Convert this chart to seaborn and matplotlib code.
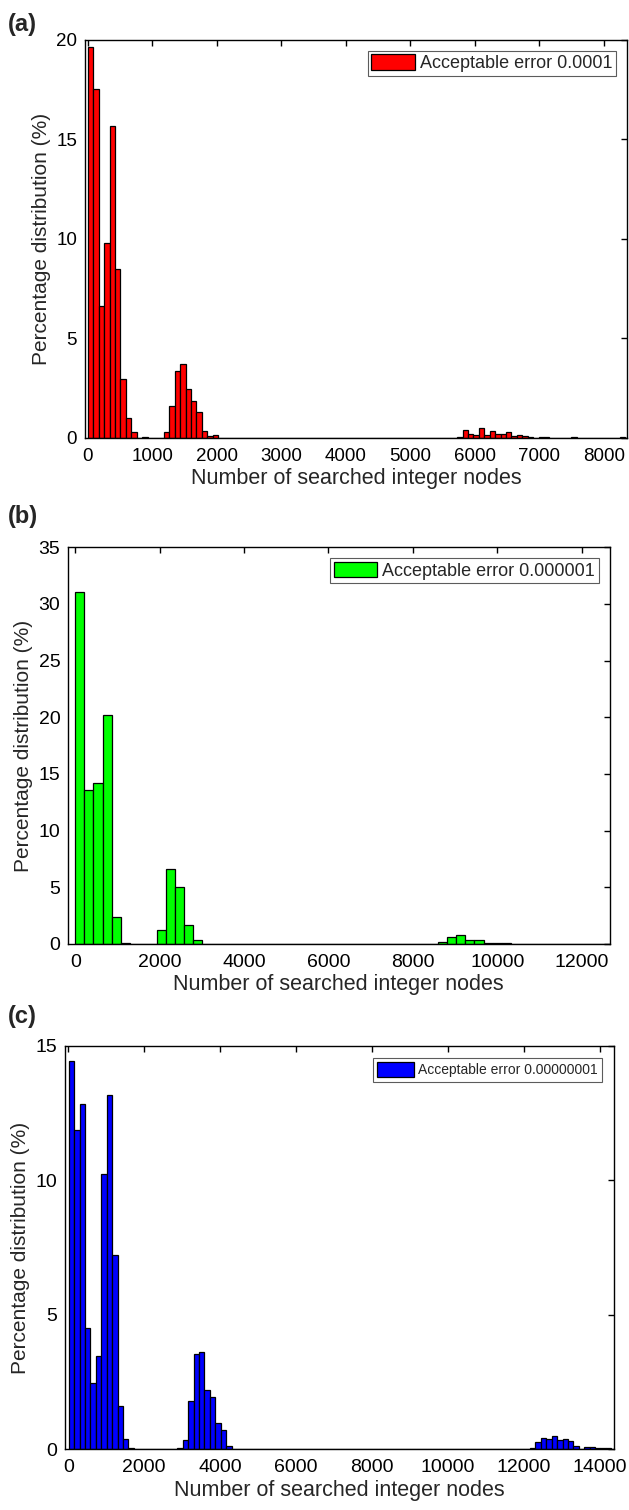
import numpy as np
import pandas as pd
import matplotlib
matplotlib.use("Agg")
import matplotlib.pyplot as plt
import seaborn as sns

sns.set_theme(style="white")
plt.rcParams["font.family"] = ["Liberation Sans", "DejaVu Sans"]

# Percentage of runs per bin of searched integer nodes
# (a) acceptable error 1e-4: 100 bins of width 84.2 starting at 0
pct_a = [19.63, 17.52, 6.62, 9.78, 15.67, 8.50, 2.95, 0.97, 0.29, 0.00,
         0.05, 0.00, 0.00, 0.00, 0.27, 1.58, 3.35, 3.72, 2.47, 1.83,
         1.29, 0.35, 0.10, 0.12, 0.00, 0.00, 0.00, 0.00, 0.00, 0.00,
         0.00, 0.00, 0.00, 0.00, 0.00, 0.00, 0.00, 0.00, 0.00, 0.00,
         0.00, 0.00, 0.00, 0.00, 0.00, 0.00, 0.00, 0.00, 0.00, 0.00,
         0.00, 0.00, 0.00, 0.00, 0.00, 0.00, 0.00, 0.00, 0.00, 0.00,
         0.00, 0.00, 0.00, 0.00, 0.00, 0.00, 0.00, 0.00, 0.02, 0.37,
         0.18, 0.12, 0.47, 0.13, 0.34, 0.17, 0.17, 0.29, 0.08, 0.12,
         0.08, 0.02, 0.00, 0.02, 0.02, 0.00, 0.00, 0.00, 0.00, 0.02,
         0.00, 0.00, 0.00, 0.00, 0.00, 0.00, 0.00, 0.00, 0.02, 0.00]
bin_start_a, bin_width_a = 0, 84.2

# (b) acceptable error 1e-6: 59 bins of width 215 starting at 0
pct_b = [31.03, 13.57, 14.24, 20.23, 2.34, 0.09, 0.00, 0.00, 0.00, 1.23,
         6.58, 5.00, 1.64, 0.38, 0.03, 0.02, 0.00, 0.00, 0.00, 0.00,
         0.00, 0.00, 0.00, 0.00, 0.00, 0.00, 0.00, 0.00, 0.00, 0.00,
         0.00, 0.00, 0.00, 0.00, 0.00, 0.00, 0.00, 0.00, 0.00, 0.00,
         0.18, 0.59, 0.79, 0.38, 0.32, 0.05, 0.05, 0.12, 0.00, 0.00,
         0.00, 0.00, 0.02, 0.00, 0.00, 0.00, 0.00, 0.00, 0.00]
bin_start_b, bin_width_b = 0, 215

# (c) acceptable error 1e-8: 100 bins of width 143 starting at 10
pct_c = [14.42, 11.86, 12.83, 4.49, 2.47, 3.46, 10.22, 13.17, 7.22, 1.62,
         0.38, 0.06, 0.00, 0.00, 0.00, 0.00, 0.00, 0.00, 0.00, 0.00,
         0.05, 0.33, 1.81, 3.53, 3.60, 2.19, 1.95, 0.97, 0.72, 0.11,
         0.00, 0.00, 0.00, 0.00, 0.00, 0.00, 0.00, 0.00, 0.00, 0.00,
         0.00, 0.00, 0.00, 0.00, 0.00, 0.00, 0.00, 0.00, 0.00, 0.00,
         0.00, 0.00, 0.00, 0.00, 0.00, 0.00, 0.00, 0.00, 0.00, 0.00,
         0.00, 0.00, 0.00, 0.00, 0.00, 0.00, 0.00, 0.00, 0.00, 0.00,
         0.00, 0.00, 0.00, 0.00, 0.00, 0.00, 0.00, 0.00, 0.00, 0.00,
         0.00, 0.00, 0.00, 0.00, 0.00, 0.03, 0.26, 0.43, 0.37, 0.51,
         0.36, 0.38, 0.32, 0.11, 0.02, 0.07, 0.07, 0.03, 0.04, 0.04]
bin_start_c, bin_width_c = 10, 143

panel_tags = ["(a)", "(b)", "(c)"]
legend_labels = ["Acceptable error 0.0001", "Acceptable error 0.000001",
                 "Acceptable error 0.00000001"]
bar_colors = ["#ff0000", "#00ff00", "#0000ff"]
x_limits = [(-48, 8360), (-173, 12660), (-96, 14380)]
x_ticks = [np.arange(0, 8001, 1000), np.arange(0, 12001, 2000),
           np.arange(0, 14001, 2000)]
y_limits = [(0, 20), (0, 35), (0, 15)]
y_ticks = [np.arange(0, 21, 5), np.arange(0, 36, 5), np.arange(0, 16, 5)]

W, H = 629, 1510
fig = plt.figure(figsize=(W / 100, H / 100), dpi=100)

# axes boxes in pixels: left, top, right, bottom
boxes = [(84.7, 40.0, 627.0, 437.7),
         (68.0, 547.3, 609.5, 944.0),
         (64.7, 1045.7, 614.0, 1449.3)]
tag_pos = [(8, 24), (8, 517), (8, 1017)]
tick_fs = [13.5, 14, 14]
# legend styling per panel: font size, border pad, handle size, axes pad
legend_style = [dict(fontsize=13, borderpad=0.2, handlelength=2.4,
                     handleheight=0.95, borderaxespad=0.6),
                dict(fontsize=13, borderpad=0.2, handlelength=2.4,
                     handleheight=0.95, borderaxespad=0.6),
                dict(fontsize=10, borderpad=0.35, handlelength=2.6,
                     handleheight=1.2, borderaxespad=0.85)]

series = [(pct_a, bin_start_a, bin_width_a),
          (pct_b, bin_start_b, bin_width_b),
          (pct_c, bin_start_c, bin_width_c)]

for i, (pct, start, width) in enumerate(series):
    l, t, r, b = boxes[i]
    ax = fig.add_axes([l / W, 1 - b / H, (r - l) / W, (b - t) / H])
    n = len(pct)
    centers = start + width * (np.arange(n) + 0.5)
    df = pd.DataFrame({"nodes": centers, "pct": pct})
    sns.histplot(data=df, x="nodes", weights="pct", binwidth=width,
                 binrange=(start, start + width * n),
                 color=bar_colors[i], edgecolor="black", linewidth=0.9,
                 alpha=1, ax=ax, label=legend_labels[i])
    ax.set_xlim(*x_limits[i])
    ax.set_ylim(*y_limits[i])
    ax.set_xticks(x_ticks[i])
    ax.set_yticks(y_ticks[i])
    ax.tick_params(direction="in", length=4, width=1, top=True, right=True,
                   labelsize=tick_fs[i], colors="black")
    ax.tick_params(axis="x", pad=7.2)
    ax.tick_params(axis="y", pad=5.5)
    for s in ax.spines.values():
        s.set_visible(True)
        s.set_color("black")
        s.set_linewidth(1)
    ax.set_xlabel("Number of searched integer nodes", fontsize=15.5,
                  labelpad=2.5)
    ax.set_ylabel("Percentage distribution (%)", fontsize=15, labelpad=4)
    leg = ax.legend(loc="upper right", frameon=True, fancybox=False,
                    edgecolor="#333333", handletextpad=0.3,
                    **legend_style[i])
    leg.get_frame().set_linewidth(0.8)
    fig.text(tag_pos[i][0] / W, 1 - tag_pos[i][1] / H, panel_tags[i],
             fontsize=17, fontweight="bold", va="center", ha="left")

fig.savefig("out.png", dpi=100)
